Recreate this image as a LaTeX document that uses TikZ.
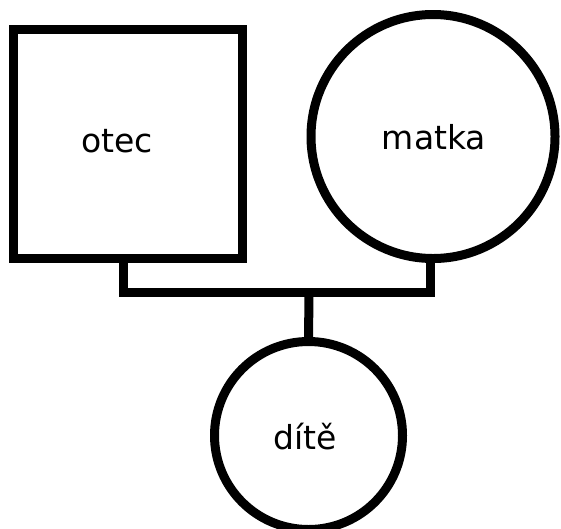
\documentclass[tikz,border=0pt]{standalone}
\usepackage{fontspec}
\setmainfont{DejaVu Sans}
\begin{document}
\begin{tikzpicture}[x=1pt,y=-1pt,
  shapeline/.style={draw=black,line width=9pt,inner sep=0pt,outer sep=0pt},
  conn/.style={draw=black,line width=9pt,line join=miter},
  lbl/.style={font=\fontsize{33}{40}\selectfont,inner sep=0pt}]
\useasboundingbox (0,0) rectangle (561,528);
\clip (0,0) rectangle (561,528);
\node[shapeline,rectangle,minimum size=229pt] (otec) at (128,144) {};
\node[lbl] (otectext) at (117,141) {otec};
\node[shapeline,circle,minimum size=244pt] (matka) at (433,136.5) {};
\node[lbl] (matkatext) at (434,137) {matka};
\node[shapeline,circle,minimum size=188pt] (dite) at (308.5,435.5) {};
\node[lbl] (ditetext) at (305,437) {dítě};
\coordinate (fl) at (123,292.5);
\coordinate (j) at (309,292.5);
\draw[conn] ([xshift=-5pt]otec.south) -- (fl) -| ([xshift=-2.5pt]matka.south);
\draw[conn] (j) -- (dite.north);
\end{tikzpicture}
\end{document}
